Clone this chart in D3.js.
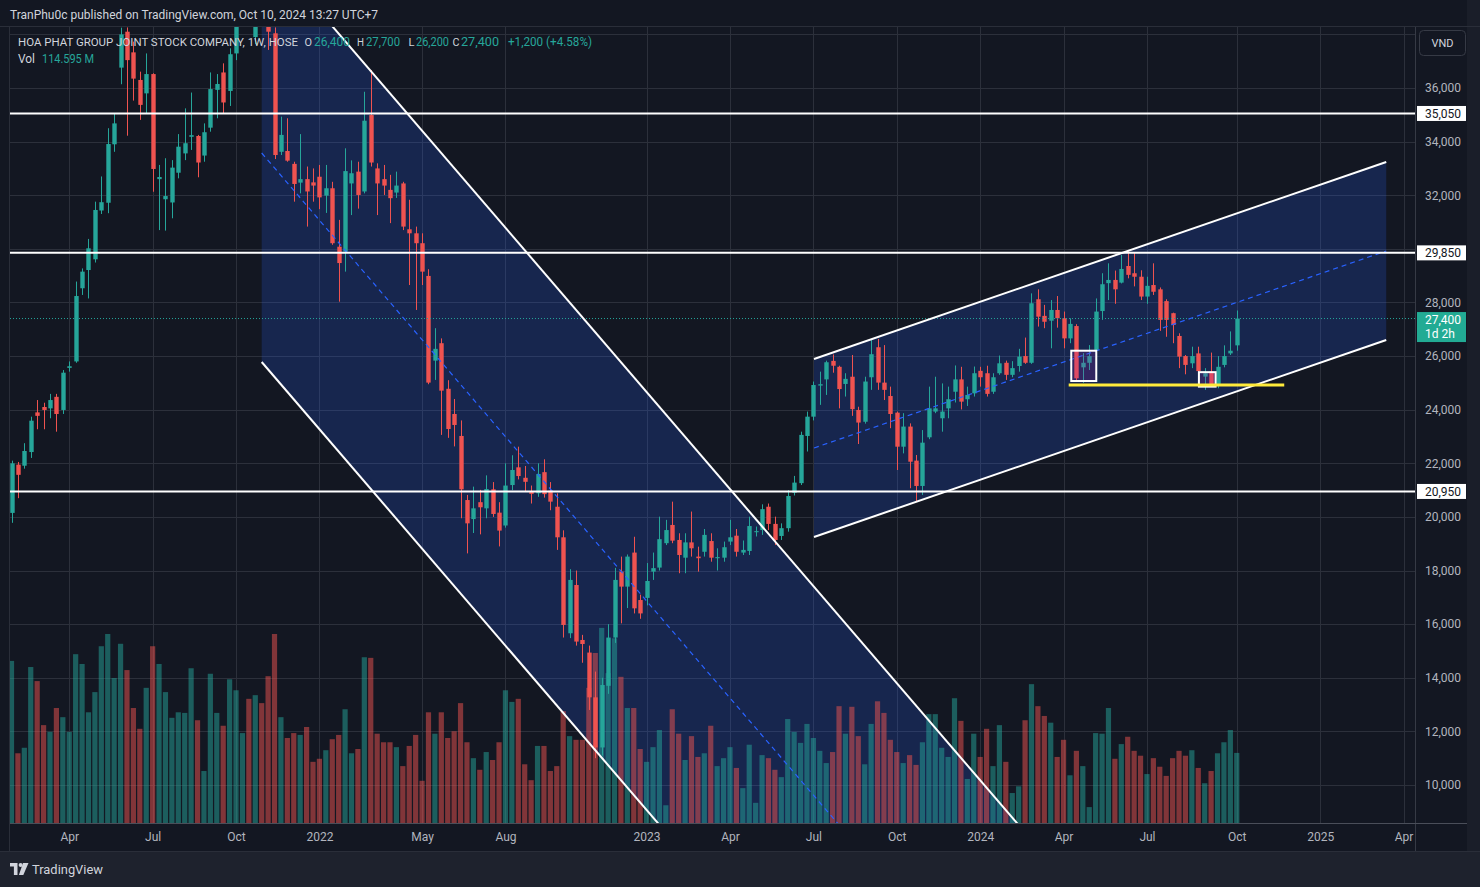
<!DOCTYPE html>
<html>
<head>
<meta charset="utf-8">
<script src="https://cdn.jsdelivr.net/npm/d3@7/dist/d3.min.js"></script>
<style>
html,body{margin:0;padding:0;background:#131722;overflow:hidden;}
svg{display:block;font-family:Roboto,"Noto Sans",sans-serif;}
</style>
</head>
<body>
<svg id="chart" width="1480" height="887"></svg>
<script>
// ---------- DATA (weekly HPG, VND) ----------
const opens = [20150,21950,21910,22420,23900,24100,24050,24480,23990,25560,
25800,28530,29210,29610,31430,31720,33900,36760,38100,37330,
36300,35800,36520,32600,31850,31730,32840,33560,34180,34210,
33480,34520,35930,36580,35890,37290,38600,39800,37900,39300,
38700,38040,33620,33650,33170,32470,32600,32480,32690,31985,
32260,30080,29900,32440,32880,32140,34990,33000,32600,32200,
32100,32440,30730,30580,30210,28990,25830,26480,24780,23840,
23020,20630,19920,20550,20320,21030,20160,19680,21190,21850,
21460,20940,20880,21670,20980,20380,19240,15660,17460,15410,
14940,13270,11400,13700,15500,17960,17400,18670,16900,16980,
17960,18110,19020,19700,19140,18480,19050,18520,18700,19100,
18460,18480,19080,19300,18670,18730,19430,19510,20380,19740,
19290,19580,20900,21260,23020,23740,24900,25130,25820,25600,
24960,25230,23990,23550,25210,26330,25010,24510,23890,22620,
23370,22100,21155,22970,23930,23680,24050,24670,25130,24390,
24610,25450,25360,24670,25360,25750,25300,25630,26000,25750,
28120,27500,27320,27720,27410,26660,27120,25580,25750,26230,
27680,28720,28840,28740,29360,29090,28960,28220,28650,28490,
28050,27600,26750,26000,25730,26100,25234,25420,24960,25670,
26100,26400];
const highs = [22100,22050,22750,23740,24360,24260,24590,24590,25480,25800,
28780,29270,30370,31760,32700,34500,35030,38250,38260,37730,
36610,37290,36550,33130,33380,33310,34280,35240,35830,34250,
34680,36580,36520,36920,37480,39000,40500,40600,39600,39800,
39000,38260,34930,34870,33250,34280,33070,33000,33130,33130,
32500,31080,33750,33300,33250,35860,36670,33190,33130,32760,
32880,32500,31830,30830,30580,29240,27040,26660,25100,24400,
23600,20820,21130,21010,21550,21300,20550,22000,22300,22620,
21900,21170,22000,22150,21300,20880,19500,18050,18000,15600,
15200,14230,14000,16000,18100,18520,18600,19260,17100,18280,
18670,20010,19890,20570,19390,19390,20200,18890,19550,19390,
18830,19080,19890,19550,19120,20010,19640,20470,20500,20010,
19760,21000,21530,23180,23930,25050,25420,25830,26060,25640,
25360,26040,24110,25230,26600,26640,26410,24860,23930,23870,
23490,22310,23240,24860,25230,24980,24860,25650,25600,24860,
25610,25600,25640,25360,26020,25830,25810,26270,26690,28340,
28490,27910,28090,28240,27660,27410,27190,26110,26410,28150,
29090,29460,29190,29770,29950,29850,29200,28960,29460,28560,
28120,27620,26850,26040,26350,26350,25550,26130,26000,26400,
26920,27700];
const lows = [19780,20700,21800,22200,23270,23270,23680,23180,23840,25420,
25750,28280,28150,29490,31300,31330,33620,36140,34220,35530,
34810,35060,32130,30700,30680,31140,32630,33310,33690,32670,
33250,34370,34870,35060,35330,37040,38300,38400,37640,38400,
37420,33350,33500,33250,31760,32070,30830,31760,31480,31340,
30150,28030,29150,31260,31500,32070,33070,31260,32010,30960,
31900,30700,28650,27720,28650,24950,25110,23060,22950,22630,
19950,18640,19400,19350,19950,20000,18900,19600,21000,21400,
20940,20500,20750,20720,20250,18770,15500,15480,15200,14560,
12800,11000,11100,13400,15300,16030,16600,16400,16200,16700,
17650,18000,18950,19020,17900,17900,18520,17960,18520,18330,
18000,18330,18950,18520,18580,18580,19270,19330,19510,18950,
19140,19450,20800,21190,22440,23600,24180,24550,25380,24050,
24490,23770,22720,23480,24740,24740,24360,23310,21750,22370,
21070,20570,20820,22900,23870,23180,23680,24270,24010,24140,
24490,24860,24490,24590,25300,25110,25210,25420,25710,25710,
27100,27040,26290,27060,26290,26480,25050,25000,25480,26160,
27350,28090,27950,28710,28900,28600,28090,27950,28280,26940,
26720,26480,25550,25320,25550,25110,24740,24860,24800,25580,
26040,26200];
const closes = [22000,21570,22460,23590,23770,23990,24360,23840,25380,25620,
28240,29150,30020,31450,31740,33910,34680,38000,37040,36350,
35370,36520,32980,32680,31970,33030,33810,33940,34240,33220,
34350,35960,36150,35460,37260,38800,39800,38600,39300,38700,
38100,33500,34250,33290,32420,32600,32140,32360,31920,32260,
30210,29470,32900,32820,32010,34780,33220,32440,32360,31890,
32360,30830,30580,30210,29150,25010,26270,24710,23280,23430,
21030,19760,20320,20360,21040,20110,19490,21170,21750,21525,
21310,20860,21600,20850,20570,19240,15970,17650,15350,15260,
13270,11400,13730,15500,17650,17400,18520,16590,16400,17610,
18090,19170,19510,19115,18580,19050,18830,18460,19330,18480,
18500,18870,19240,18700,18770,19660,19470,20290,19740,19140,
19580,20780,21280,23060,23740,24920,24950,25770,25640,24770,
25150,24020,23520,25050,26070,25010,24740,23840,22620,23370,
22060,21155,22770,24050,24050,23930,24390,25130,24300,24550,
25360,25210,24590,25210,25730,25300,25550,25980,25750,27970,
27470,27280,27720,27410,26660,27200,25170,25750,26000,27660,
28680,28840,28490,29250,29030,28960,28220,28620,28400,27350,
27350,27160,25980,25670,26000,25440,25360,24960,25600,26000,
26200,27400];
// volume, millions of shares
const volumes = [265,114,123,255,232,160,149,188,173,149,
276,260,181,214,289,309,237,293,250,188,
154,221,289,260,214,172,181,180,253,168,
85,244,180,159,235,217,147,203,209,196,
240,309,173,139,147,144,157,100,105,119,
137,144,186,114,121,271,270,146,132,132,
124,93,126,144,69,181,146,181,139,150,
196,132,106,87,116,103,132,217,198,203,
96,70,126,126,85,93,183,142,136,136,
221,278,319,245,302,239,188,188,121,100,
124,152,29,186,146,103,142,108,114,159,
93,106,124,90,57,128,33,111,106,87,
75,170,149,131,162,139,118,98,116,191,
146,190,142,96,162,199,180,136,116,98,
111,95,132,178,178,123,108,204,167,72,
146,108,154,93,160,100,49,60,168,227,
191,175,164,108,136,78,118,93,26,147,
146,188,105,129,141,118,110,80,106,92,
77,106,118,110,119,90,65,85,114,132,
152,114.595];
// time axis: bar index of first bar of each labelled month
const timeTickIdx = [9,22,35,48,64,77,99,112,125,138,151,164,177,191,204,217];
const timeTickLabels = ["Apr","Jul","Oct","2022","May","Aug","2023","Apr","Jul","Oct","2024","Apr","Jul","Oct","2025","Apr"];
const priceTickVals = [10000,12000,14000,16000,18000,20000,22000,24000,26000,28000,32000,34000,36000];
const priceGridVals = [8000,10000,12000,14000,16000,18000,20000,22000,24000,26000,28000,30000,32000,34000,36000,38000];
// drawings (bar index, price)
const hLevels = [35050, 29850, 20950];
const descChannel = {i0: 39, i1: 159, up0: 41370, up1: 7950, lo0: 25780, lo1: -7640};
const ascChannel = {i0: 125.1, i1: 214.3, up0: 25892, up1: 33240, lo0: 19252, lo1: 26600};
const supportLine = {i0: 164.8, i1: 198.4, p: 24920};
const boxes = [{i0: 165.2, i1: 169.1, p0: 26200, p1: 25070}, {i0: 185.1, i1: 187.7, p0: 25400, p1: 24860}];
const lastPrice = 27400;

// ---------- CHART ----------
const svg = d3.select("#chart");
const PL = 10, PR = 1415, PT = 27, PB = 823;
const n = closes.length;
const UP = "#26a69a", DN = "#ef5350";
const x = d3.scaleLinear().domain([0, n - 1]).range([11.5, 11.5 + (n - 1) * 6.415]);
const y = d3.scaleLinear().domain([10000, 36000]).range([785, 88]);
const yv = d3.scaleLinear().domain([0, 309]).range([PB, 634]);

svg.append("rect").attr("width", 1480).attr("height", 887).attr("fill", "#131722");
svg.append("rect").attr("x", 0).attr("y", 851).attr("width", 1480).attr("height", 36).attr("fill", "#1e222d");
svg.append("rect").attr("x", 1467).attr("y", 0).attr("width", 13).attr("height", 851).attr("fill", "#1a1e29");

const defs = svg.append("defs");
defs.append("clipPath").attr("id", "pane").append("rect")
  .attr("x", PL).attr("y", PT).attr("width", PR - PL).attr("height", PB - PT);

// grid
const grid = svg.append("g").attr("clip-path", "url(#pane)");
grid.selectAll("line.h").data(priceGridVals).join("line")
  .attr("x1", PL).attr("x2", PR).attr("y1", d => Math.round(y(d)) + 0.5).attr("y2", d => Math.round(y(d)) + 0.5)
  .attr("stroke", "#2c303b").attr("stroke-width", 1);
grid.selectAll("line.v").data(timeTickIdx).join("line")
  .attr("y1", PT).attr("y2", PB).attr("x1", d => Math.round(x(d)) + 0.5).attr("x2", d => Math.round(x(d)) + 0.5)
  .attr("stroke", "#2c303b").attr("stroke-width", 1);

const pane = svg.append("g").attr("clip-path", "url(#pane)");

// channel fills
function chanPoly(c) {
  return [[x(c.i0), y(c.up0)], [x(c.i1), y(c.up1)], [x(c.i1), y(c.lo1)], [x(c.i0), y(c.lo0)]];
}
[descChannel, ascChannel].forEach(c => {
  pane.append("polygon").attr("points", chanPoly(c).map(p => p.join(",")).join(" "))
    .attr("fill", "rgba(41,98,255,0.2)");
});

// volume
pane.selectAll("rect.vol").data(volumes).join("rect")
  .attr("x", (d, i) => x(i) - 2.6).attr("width", 5.2)
  .attr("y", d => yv(d)).attr("height", d => PB - yv(d))
  .attr("fill", (d, i) => closes[i] >= opens[i] ? UP : DN).attr("fill-opacity", 0.5);

// candles
const idx = d3.range(n);
pane.selectAll("line.wick").data(idx).join("line")
  .attr("x1", i => Math.round(x(i)) + 0.5).attr("x2", i => Math.round(x(i)) + 0.5)
  .attr("y1", i => y(highs[i])).attr("y2", i => y(lows[i]))
  .attr("stroke", i => closes[i] >= opens[i] ? UP : DN).attr("stroke-width", 1);
pane.selectAll("rect.body").data(idx).join("rect")
  .attr("x", i => Math.round(x(i)) + 0.5 - 2.2).attr("width", 4.4)
  .attr("y", i => y(Math.max(opens[i], closes[i])))
  .attr("height", i => Math.max(1, Math.abs(y(opens[i]) - y(closes[i]))))
  .attr("fill", i => closes[i] >= opens[i] ? UP : DN);

// last price dotted line
pane.append("line").attr("x1", PL).attr("x2", PR).attr("y1", y(lastPrice)).attr("y2", y(lastPrice))
  .attr("stroke", UP).attr("stroke-dasharray", "1,2").attr("stroke-width", 1);

// channel lines
[descChannel, ascChannel].forEach(c => {
  pane.append("line").attr("x1", x(c.i0)).attr("y1", y(c.up0)).attr("x2", x(c.i1)).attr("y2", y(c.up1))
    .attr("stroke", "#ffffff").attr("stroke-width", 2);
  pane.append("line").attr("x1", x(c.i0)).attr("y1", y(c.lo0)).attr("x2", x(c.i1)).attr("y2", y(c.lo1))
    .attr("stroke", "#ffffff").attr("stroke-width", 2);
  pane.append("line").attr("x1", x(c.i0)).attr("y1", y((c.up0 + c.lo0) / 2)).attr("x2", x(c.i1)).attr("y2", y((c.up1 + c.lo1) / 2))
    .attr("stroke", "#2962ff").attr("stroke-width", 1.2).attr("stroke-dasharray", "5,4");
});

// horizontal levels
pane.selectAll("line.lvl").data(hLevels).join("line")
  .attr("x1", PL).attr("x2", PR).attr("y1", d => y(d)).attr("y2", d => y(d))
  .attr("stroke", "#ffffff").attr("stroke-width", 2);

// boxes
boxes.forEach(b => {
  pane.append("rect").attr("x", x(b.i0)).attr("y", y(b.p0)).attr("width", x(b.i1) - x(b.i0)).attr("height", y(b.p1) - y(b.p0))
    .attr("fill", "rgba(156,39,176,0.2)").attr("stroke", "#ffffff").attr("stroke-width", 2);
});
// support line
pane.append("line").attr("x1", x(supportLine.i0)).attr("x2", x(supportLine.i1))
  .attr("y1", y(supportLine.p)).attr("y2", y(supportLine.p))
  .attr("stroke", "#ffeb3b").attr("stroke-width", 3);

// ---------- AXES ----------
svg.append("line").attr("x1", PR + 0.5).attr("x2", PR + 0.5).attr("y1", PT).attr("y2", 851).attr("stroke", "#363a45");
svg.append("line").attr("x1", PL).attr("x2", 1467).attr("y1", PB + 0.5).attr("y2", PB + 0.5).attr("stroke", "#4a4e59");
svg.append("line").attr("x1", 0).attr("x2", 1480).attr("y1", PT - 0.5).attr("y2", PT - 0.5).attr("stroke", "#2a2e39");
svg.append("line").attr("x1", PL - 0.5).attr("x2", PL - 0.5).attr("y1", PT).attr("y2", 851).attr("stroke", "#2a2e39");
svg.append("line").attr("x1", 0).attr("x2", 1480).attr("y1", 851.5).attr("y2", 851.5).attr("stroke", "#2a2e39");

const yAxis = d3.axisRight(y).tickValues(priceTickVals).tickFormat(d3.format(",")).tickSize(0).tickPadding(10);
svg.append("g").attr("transform", `translate(${PR},0)`).call(yAxis)
  .call(g => g.select(".domain").remove())
  .attr("font-family", "Roboto, 'Noto Sans', sans-serif").attr("font-size", 12)
  .selectAll("text").attr("fill", "#b2b5be");

const xAxis = d3.axisBottom(x).tickValues(timeTickIdx).tickFormat((d, i) => timeTickLabels[i]).tickSize(0).tickPadding(9);
svg.append("g").attr("transform", `translate(0,${PB})`).call(xAxis)
  .call(g => g.select(".domain").remove())
  .attr("font-family", "Roboto, 'Noto Sans', sans-serif").attr("font-size", 12)
  .selectAll("text").attr("fill", "#b2b5be");

// level labels on axis
hLevels.forEach(v => {
  const yy = y(v);
  svg.append("rect").attr("x", PR + 2).attr("y", yy - 7.5).attr("width", 49).attr("height", 15).attr("fill", "#ffffff");
  svg.append("text").attr("x", PR + 10).attr("y", yy).attr("dy", "0.35em").attr("font-size", 12)
    .attr("fill", "#131722").text(d3.format(",")(v));
});
// last price label
{
  const yy = y(lastPrice);
  svg.append("rect").attr("x", PR + 2).attr("y", yy - 6.5).attr("width", 49).attr("height", 30).attr("fill", "#22ab94");
  svg.append("text").attr("x", PR + 10).attr("y", yy + 1).attr("dy", "0.35em").attr("font-size", 12)
    .attr("fill", "#ffffff").text(d3.format(",")(lastPrice));
  svg.append("text").attr("x", PR + 10).attr("y", yy + 15).attr("dy", "0.35em").attr("font-size", 12)
    .attr("fill", "#ffffff").text("1d 2h");
}
// VND box
svg.append("rect").attr("x", 1419.5).attr("y", 30.5).attr("width", 46).attr("height", 25).attr("rx", 4)
  .attr("fill", "#131722").attr("stroke", "#363a45");
svg.append("text").attr("x", 1442.5).attr("y", 43.5).attr("dy", "0.35em").attr("text-anchor", "middle")
  .attr("font-size", 11).attr("fill", "#d1d4dc").text("VND");

// ---------- TEXT ----------
function txt(s, xx, yy, w, fill, size) {
  const t = svg.append("text").attr("x", xx).attr("y", yy).attr("dy", "0.35em")
    .attr("font-size", size || 12).attr("fill", fill).text(s);
  if (w) t.attr("textLength", w).attr("lengthAdjust", "spacingAndGlyphs");
  return t;
}
txt("TranPhu0c published on TradingView.com, Oct 10, 2024 13:27 UTC+7", 10, 14.5, 368, "#d1d4dc", 12.5);
const LG = "#d1d4dc", TV = "#26a69a";
txt("HOA PHAT GROUP JOINT STOCK COMPANY, 1W, HOSE", 18, 42, 280, LG, 11.4);
txt("O", 304.5, 42, 7.5, LG, 11.5); txt("26,400", 314, 42, 36, TV, 12);
txt("H", 357, 42, 7, LG, 11.5); txt("27,700", 366, 42, 34, TV, 12);
txt("L", 408.5, 42, 6, LG, 11.5); txt("26,200", 416, 42, 33, TV, 12);
txt("C", 452.5, 42, 7, LG, 11.5); txt("27,400", 461, 42, 38, TV, 12);
txt("+1,200 (+4.58%)", 508, 42, 84, TV, 12);
txt("Vol", 18, 59, 17, LG, 12); txt("114.595 M", 42, 59, 52, TV, 12);

// TradingView logo
const lg = svg.append("g").attr("fill", "#d1d4dc");
lg.append("path").attr("d", "M10,863 h7.5 v12 h-3.6 v-8.4 h-3.9 z");
lg.append("circle").attr("cx", 20.6).attr("cy", 865).attr("r", 2);
lg.append("path").attr("d", "M23,863 h5.5 l-5.2,12 h-4.4 z");
txt("TradingView", 32, 869, 71, "#d1d4dc", 13);
</script>
</body>
</html>
